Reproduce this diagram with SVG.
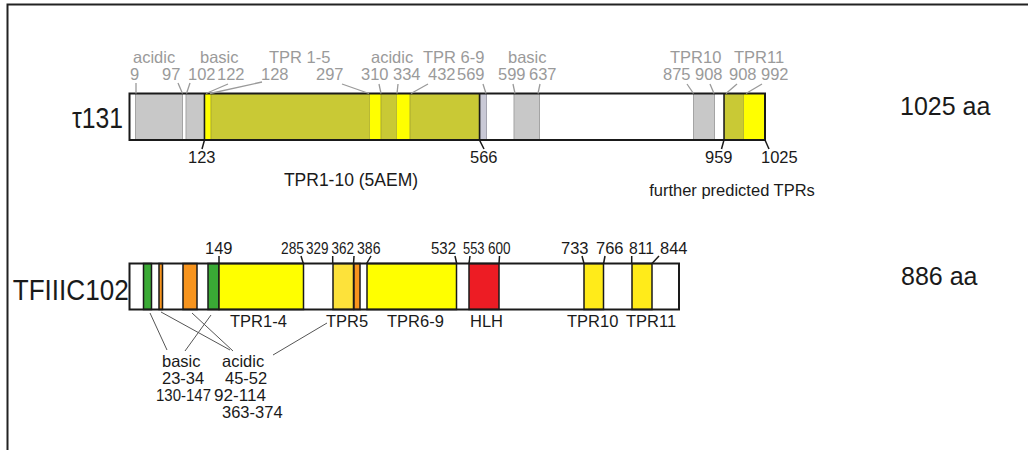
<svg xmlns="http://www.w3.org/2000/svg" width="1028" height="450" viewBox="0 0 1028 450">
<style>
text{font-family:"Liberation Sans",Arial,sans-serif}
.g{fill:#9a9a9a;font-size:16.5px}
.k{fill:#1a1a1a;font-size:16.5px}
.big{fill:#1a1a1a;font-size:29px}
.aa{fill:#1a1a1a;font-size:25px}
.gl{stroke:#9a9a9a;stroke-width:1.3;fill:none}
.kl{stroke:#1a1a1a;stroke-width:1.5;fill:none}
.al{stroke:#555;stroke-width:1;fill:none}
.gray{fill:#c8c8c8;stroke:#a4a4a4;stroke-width:1}
.lav{fill:#c9c9d6;stroke:#a4a4b0;stroke-width:1}
.olive{fill:#c9c935;stroke:#a9a930;stroke-width:1}
.yel{fill:#ffff00}
.bar{fill:none;stroke:#1a1a1a;stroke-width:2}
.seg{stroke:#1a1a1a;stroke-width:1.5}
</style>
<g id="frame"><path d="M7.5 450 V4.5 H1028" fill="none" stroke="#222" stroke-width="2"/></g>

<g id="tau131">
<rect x="129.5" y="93.5" width="635.5" height="46.5" fill="#fff"/>
<rect class="gray" x="135.5" y="93.5" width="47" height="46.5"/>
<rect class="gray" x="186" y="93.5" width="18" height="46.5"/>
<rect class="yel" x="205" y="93.5" width="6" height="46.5"/>
<rect class="olive" x="211" y="93.5" width="159" height="46.5"/>
<rect class="yel" x="370" y="93.5" width="11" height="46.5"/>
<rect class="olive" x="381" y="93.5" width="16" height="46.5"/>
<rect class="yel" x="397" y="93.5" width="13" height="46.5"/>
<rect class="olive" x="410" y="93.5" width="69.5" height="46.5"/>
<rect class="lav" x="480.5" y="93.5" width="6" height="46.5"/>
<rect class="gray" x="514" y="93.5" width="25.5" height="46.5"/>
<rect class="gray" x="693.5" y="93.5" width="21" height="46.5"/>
<rect class="olive" x="724.5" y="93.5" width="19.5" height="46.5"/>
<rect class="yel" x="744" y="93.5" width="21" height="46.5"/>
<rect class="bar" x="129.5" y="93.5" width="635.5" height="46.5"/>
<text class="big" x="72" y="128" textLength="51" lengthAdjust="spacingAndGlyphs">τ131</text>
<text class="aa" x="900" y="115">1025 aa</text>
<g class="g">
<text x="133" y="63">acidic</text><text x="200" y="63">basic</text><text x="269" y="63">TPR 1-5</text>
<text x="371" y="63">acidic</text><text x="423" y="63">TPR 6-9</text><text x="508" y="63">basic</text>
<text x="670" y="63">TPR10</text><text x="734" y="63">TPR11</text>
<text x="130" y="80">9</text><text x="162" y="80">97</text><text x="188" y="80">102</text><text x="217" y="80">122</text>
<text x="261" y="80">128</text><text x="316" y="80">297</text><text x="361" y="80">310</text><text x="393" y="80">334</text>
<text x="428" y="80">432</text><text x="457" y="80">569</text><text x="498" y="80">599</text><text x="529" y="80">637</text>
<text x="663" y="80">875</text><text x="695" y="80">908</text><text x="729" y="80">908</text><text x="761" y="80">992</text>
</g>
<g class="k">
<text x="188" y="163">123</text><text x="470" y="163">566</text><text x="705" y="163">959</text><text x="761" y="163">1025</text>
<text x="351" y="186" text-anchor="middle" font-size="17.5">TPR1-10 (5AEM)</text>
<text x="732" y="196" text-anchor="middle">further predicted TPRs</text>
</g>
</g>

<g id="tfiiic102">
<rect x="129.5" y="263.5" width="549.5" height="46" fill="#fff"/>
<rect class="seg" x="143.5" y="263.5" width="8" height="46" fill="#3aaa35"/>
<rect class="seg" x="159" y="263.5" width="3.5" height="46" fill="#f7941d"/>
<rect class="seg" x="183" y="263.5" width="14" height="46" fill="#f7941d"/>
<rect class="seg" x="208" y="263.5" width="11" height="46" fill="#3aaa35"/>
<rect class="seg" x="219" y="263.5" width="84.5" height="46" fill="#ffff00"/>
<rect class="seg" x="333" y="263.5" width="20.5" height="46" fill="#fde23a"/>
<rect class="seg" x="354" y="263.5" width="6" height="46" fill="#f7941d"/>
<rect class="seg" x="367" y="263.5" width="89.5" height="46" fill="#ffff00"/>
<rect class="seg" x="469" y="263.5" width="30" height="46" fill="#ed1c24"/>
<rect class="seg" x="584" y="263.5" width="19.5" height="46" fill="#ffeb1a"/>
<rect class="seg" x="632" y="263.5" width="20" height="46" fill="#ffeb1a"/>
<rect class="bar" x="129.5" y="263.5" width="549.5" height="46"/>
<text class="big" x="12.7" y="300" textLength="116" lengthAdjust="spacingAndGlyphs">TFIIIC102</text>
<text class="aa" x="901" y="285">886 aa</text>
<g class="k">
<text x="205" y="254">149</text>
<text x="281" y="254" textLength="23" lengthAdjust="spacingAndGlyphs">285</text>
<text x="306" y="254" textLength="22.5" lengthAdjust="spacingAndGlyphs">329</text>
<text x="331.5" y="254" textLength="22.5" lengthAdjust="spacingAndGlyphs">362</text>
<text x="357" y="254" textLength="23.5" lengthAdjust="spacingAndGlyphs">386</text>
<text x="431" y="254" textLength="25" lengthAdjust="spacingAndGlyphs">532</text>
<text x="463" y="254" textLength="21.5" lengthAdjust="spacingAndGlyphs">553</text>
<text x="488" y="254" textLength="22.5" lengthAdjust="spacingAndGlyphs">600</text>
<text x="561" y="254">733</text><text x="596" y="254">766</text>
<text x="629" y="254" textLength="25" lengthAdjust="spacingAndGlyphs">811</text><text x="660" y="254">844</text>
<text x="230" y="327">TPR1-4</text><text x="326" y="327">TPR5</text><text x="387" y="327">TPR6-9</text>
<text x="470" y="327">HLH</text><text x="567" y="327">TPR10</text><text x="626" y="327">TPR11</text>
<text x="162" y="367">basic</text><text x="162" y="384">23-34</text>
<text x="222" y="367">acidic</text><text x="225" y="384">45-52</text><text x="222" y="418">363-374</text>
<text x="156" y="401" textLength="55" lengthAdjust="spacingAndGlyphs">130-147</text>
<text x="214" y="401" textLength="52" lengthAdjust="spacingAndGlyphs">92-114</text>
</g>
</g>

<g id="connectors">
<g class="gl">
<path d="M136 83V93.5"/><path d="M178 83L182.5 93.5"/><path d="M190 83L186.5 93.5"/>
<path d="M228 84L206 93.5"/><path d="M262 82L210 93.5"/><path d="M342 84L369 93.5"/>
<path d="M379 84L381 93.5"/><path d="M398 84L397 93.5"/><path d="M428 84L411 93.5"/>
<path d="M483 84L486 93.5"/><path d="M513 84L515 93.5"/><path d="M540 84L538 93.5"/>
<path d="M687 84L693.5 93.5"/><path d="M710 84L714 93.5"/><path d="M737 84L726 93.5"/>
<path d="M762 84L746 93.5"/>
</g>
<g class="kl">
<path d="M204.5 93.5V140L202 149"/><path d="M479.5 93.5V140L484 149"/>
<path d="M724 93.5V140L721.5 149"/><path d="M765 140L769 149"/>
<path d="M219 256V263.5"/><path d="M301 256L303.3 263.5"/><path d="M332.7 256V263.5"/>
<path d="M354 256L353.5 263.5"/><path d="M371 256L366.7 263.5"/><path d="M455 256L456.7 263.5"/>
<path d="M470 256L469 263.5"/><path d="M499.5 256L499 263.5"/><path d="M582 256L584 263.5"/>
<path d="M605 256L603.6 263.5"/><path d="M631.7 256V263.5"/><path d="M659 256L652 263.5"/>
</g>
<g class="al">
<path d="M150 313L167 350"/><path d="M161 312L230 350"/><path d="M192 313L233 351"/>
<path d="M211 315L185 351"/><path d="M327 323L273 355"/>
</g>
</g>
</svg>
